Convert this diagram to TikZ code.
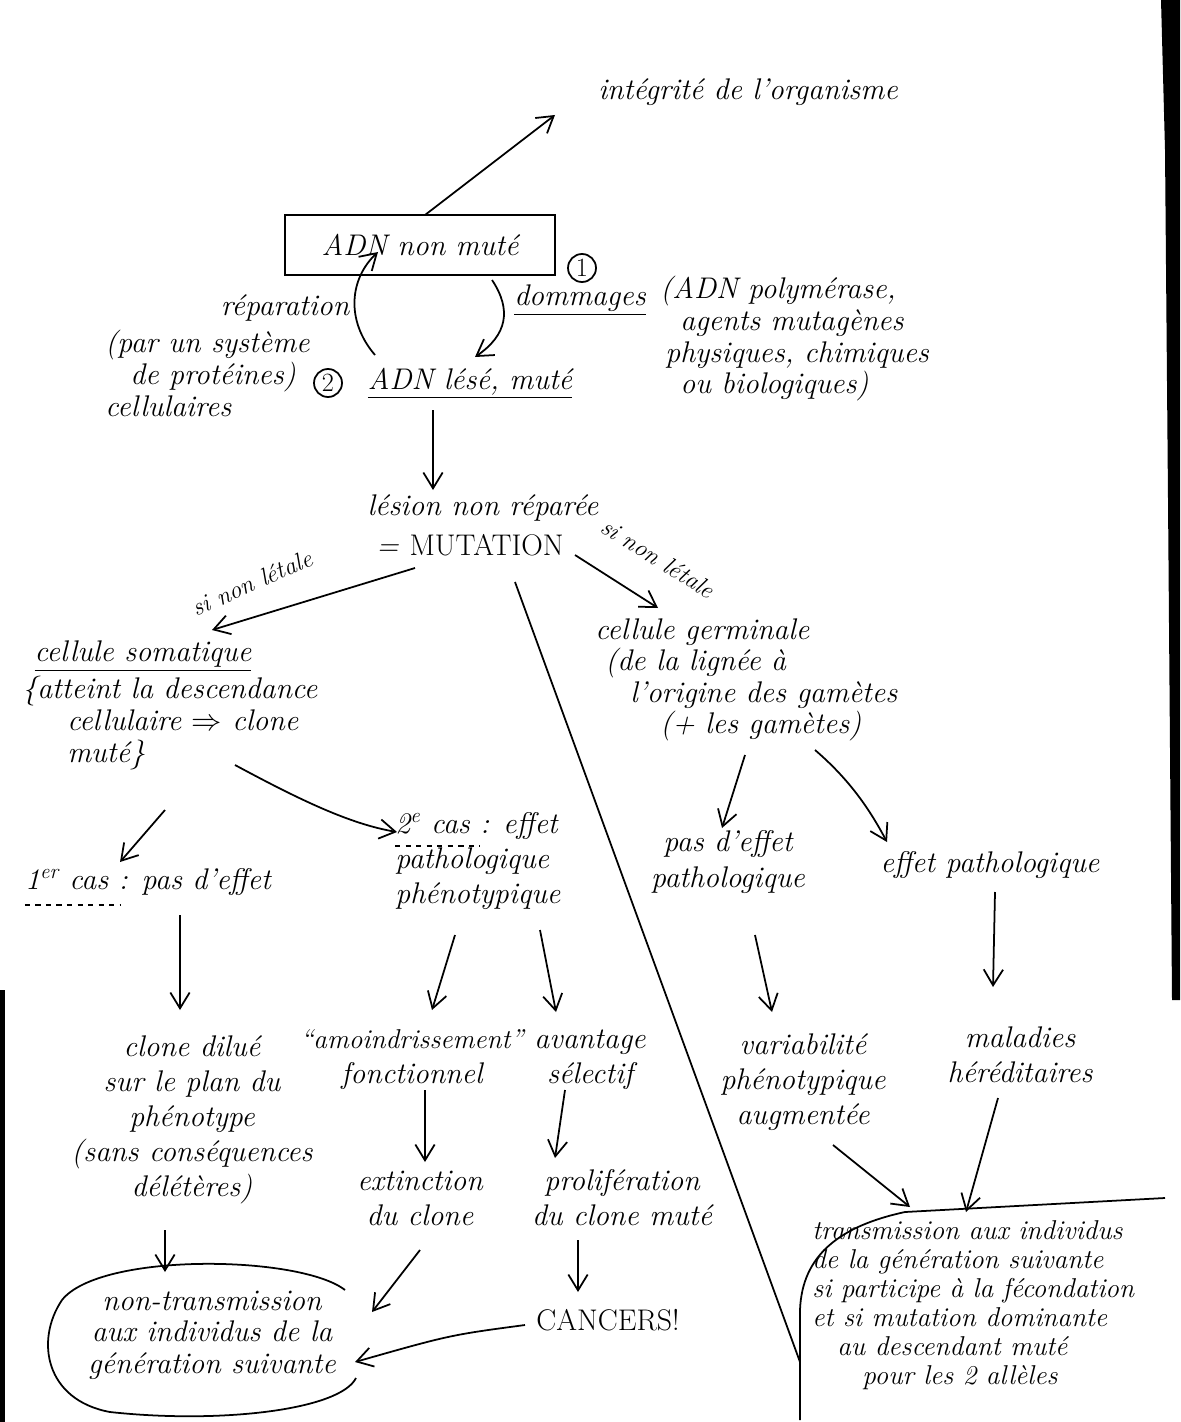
\documentclass[tikz,border=0pt]{standalone}
\usetikzlibrary{arrows.meta}
\begin{document}
\begin{tikzpicture}[x=0.02cm,y=-0.02cm,
  hw/.style={font=\itshape\fontsize{17}{18}\selectfont, inner sep=0pt, align=center},
  hwl/.style={hw, align=left},
  hws/.style={hw, font=\itshape\fontsize{14}{15}\selectfont},
  arr/.style={-{Straight Barb[length=9pt,width=11pt,line width=1pt]}, line width=1pt},
  ln/.style={line width=1pt},
  num/.style={circle, draw, line width=1pt, inner sep=0pt, minimum size=0.56cm, font=\fontsize{15}{15}\selectfont}]
\useasboundingbox (0,0) rectangle (1180,1422);
\fill[white] (0,0) rectangle (1180,1422);
% scan edges
\fill[black] (1161,0) -- (1180,0) -- (1180,1000) -- (1172,1000) -- (1168,500) -- (1165,150) -- cycle;
\fill[black] (0,990) rectangle (5,1422);

% --- nodes ---
\node[hw] (integ) at (748,92) {intégrité de l'organisme};
\node[hw, draw, line width=1.1pt, minimum width=5.4cm, minimum height=1.2cm] (adn) at (420,245) {ADN non muté};
\node[num] (c1) at (582,268) {1};
\node[hw] (domm) at (580,300) {\underline{dommages}};
\node[hwl, anchor=north west] (agents) at (660,276) {(ADN polymérase,\\ \hspace{0.4cm}agents mutagènes\\ \hspace{0.1cm}physiques, chimiques\\ \hspace{0.4cm}ou biologiques)};
\node[hw] (repar) at (285,308) {réparation};
\node[hwl, anchor=north west] (syst) at (105,330) {(par un système\\ \hspace{0.5cm}de protéines)\\ cellulaires};
\node[num] (c2) at (328,383) {2};
\node[hw] (lese) at (470,383) {\underline{ADN lésé, muté}};
\node[hw] (lesion) at (483,508) {lésion non réparée};
\node[hw] (mut) at (470,545) {= \textup{MUTATION}};
\node[hws, rotate=24] (snl1) at (252,583) {si non létale};
\node[hws, rotate=-32] (snl2) at (658,558) {si non létale};
\node[hw] (soma) at (143,656) {\underline{cellule somatique}};
\node[hwl, anchor=north west] (atteint) at (22,676) {\{atteint la descendance\\ \hspace{0.9cm}cellulaire $\Rightarrow$ clone\\ \hspace{0.9cm}muté\}};
\node[hwl, anchor=north west] (germ) at (595,618) {cellule germinale\\ \hspace{0.2cm}(de la lignée à\\ \hspace{0.7cm}l'origine des gamètes\\ \hspace{1.3cm}(+ les gamètes)};
\node[hw] (cas1) at (148,882) {1\textsuperscript{er} cas : pas d'effet};
\node[hwl, anchor=north west] (cas2) at (395,812) {2\textsuperscript{e} cas : effet\\[2pt] pathologique\\[2pt] phénotypique};
\node[hw] (pasp) at (728,862) {pas d'effet\\[2pt] pathologique};
\node[hw] (effp) at (990,865) {effet pathologique};
\node[hw] (dilue) at (192,1120) {clone dilué\\[2pt] sur le plan du\\[2pt] phénotype\\[2pt] (sans conséquences\\[2pt] délétères)};
\node[hw] (amoin) at (412,1060) {{\fontsize{15.5}{18}\selectfont “amoindrissement”}\\[2pt] fonctionnel};
\node[hw] (avant) at (590,1060) {avantage\\[2pt] sélectif};
\node[hw] (extin) at (420,1198) {extinction\\[2pt] du clone};
\node[hw] (prolif) at (622,1198) {prolifération\\[2pt] du clone muté};
\node[hw] (cancer) at (608,1320) {\textup{CANCERS!}};
\node[hw] (nontr) at (212,1335) {non-transmission\\ aux individus de la\\ génération suivante};
\node[hw] (vari) at (803,1082) {variabilité\\[2pt] phénotypique\\[2pt] augmentée};
\node[hw] (malad) at (1020,1055) {maladies\\[2pt] héréditaires};
\node[hwl, anchor=north west, font=\itshape\fontsize{15.5}{16.5}\selectfont] (trans) at (812,1220) {transmission aux individus\\ de la génération suivante\\ si participe à la fécondation\\ et si mutation dominante\\ \hspace{0.5cm}au descendant muté\\ \hspace{1cm}pour les 2 allèles};

% decorations
\draw[ln, dashed] ([yshift=-5pt]cas1.south west) -- ++(1.9cm,0);
\draw[ln, dashed] ([yshift=-0.68cm]cas2.north west) -- ++(1.7cm,0);
\draw[ln] (345,1290) .. controls (300,1255) and (100,1252) .. (62,1300)
          .. controls (35,1340) and (45,1400) .. (110,1412)
          .. controls (220,1424) and (340,1410) .. (356,1378);
\draw[ln] (800,1420) -- (800,1310) .. controls (802,1255) and (840,1226) .. (905,1212) -- (1165,1198);
\coordinate (sepA) at (515,582);
\coordinate (sepB) at (800,1362);
\draw[ln] (sepA) -- (sepB);

% --- connectors ---
\coordinate (a1) at (425,215);  \coordinate (a1e) at (555,115);
\draw[arr] (a1) -- (a1e);
\coordinate (r1) at (375,355);  \coordinate (r1e) at (378,252);
\draw[arr] (r1) .. controls (345,320) and (350,278) .. (r1e);
\coordinate (d1) at (492,280);  \coordinate (d1e) at (475,357);
\draw[arr] (d1) .. controls (512,310) and (507,335) .. (d1e);
\coordinate (l1) at (433,410);  \coordinate (l1e) at (433,490);
\draw[arr] (l1) -- (l1e);
\coordinate (m1) at (415,568);  \coordinate (m1e) at (212,630);
\draw[arr] (m1) -- (m1e);
\coordinate (m2) at (575,555);  \coordinate (m2e) at (658,608);
\draw[arr] (m2) -- (m2e);
\coordinate (s1) at (165,810);  \coordinate (s1e) at (120,862);
\draw[arr] (s1) -- (s1e);
\coordinate (s2) at (235,765);  \coordinate (s2e) at (397,832);
\draw[arr] (s2) .. controls (300,800) and (350,824) .. (s2e);
\coordinate (c1a) at (180,915); \coordinate (c1b) at (180,1010);
\draw[arr] (c1a) -- (c1b);
\coordinate (c2a) at (455,935); \coordinate (c2b) at (432,1010);
\draw[arr] (c2a) -- (c2b);
\coordinate (c3a) at (540,930); \coordinate (c3b) at (556,1012);
\draw[arr] (c3a) -- (c3b);
\coordinate (e1) at (425,1090); \coordinate (e1e) at (425,1162);
\draw[arr] (e1) -- (e1e);
\coordinate (p1) at (565,1090); \coordinate (p1e) at (555,1158);
\draw[arr] (p1) -- (p1e);
\coordinate (k1) at (578,1240); \coordinate (k1e) at (578,1292);
\draw[arr] (k1) -- (k1e);
\coordinate (n1) at (165,1230); \coordinate (n1e) at (165,1272);
\draw[arr] (n1) -- (n1e);
\coordinate (n2) at (420,1250); \coordinate (n2e) at (372,1312);
\draw[arr] (n2) -- (n2e);
\coordinate (n3) at (525,1325); \coordinate (n3e) at (355,1362);
\draw[arr] (n3) .. controls (450,1335) .. (n3e);
\coordinate (g1) at (745,755);  \coordinate (g1e) at (722,828);
\draw[arr] (g1) -- (g1e);
\coordinate (g2) at (815,750);  \coordinate (g2e) at (887,842);
\draw[arr] (g2) .. controls (850,780) and (870,810) .. (g2e);
\coordinate (v1) at (755,935);  \coordinate (v1e) at (772,1012);
\draw[arr] (v1) -- (v1e);
\coordinate (h1) at (995,892);  \coordinate (h1e) at (993,987);
\draw[arr] (h1) -- (h1e);
\coordinate (t1) at (833,1145); \coordinate (t1e) at (910,1207);
\draw[arr] (t1) -- (t1e);
\coordinate (t2) at (998,1098); \coordinate (t2e) at (966,1212);
\draw[arr] (t2) -- (t2e);
\end{tikzpicture}
\end{document}
